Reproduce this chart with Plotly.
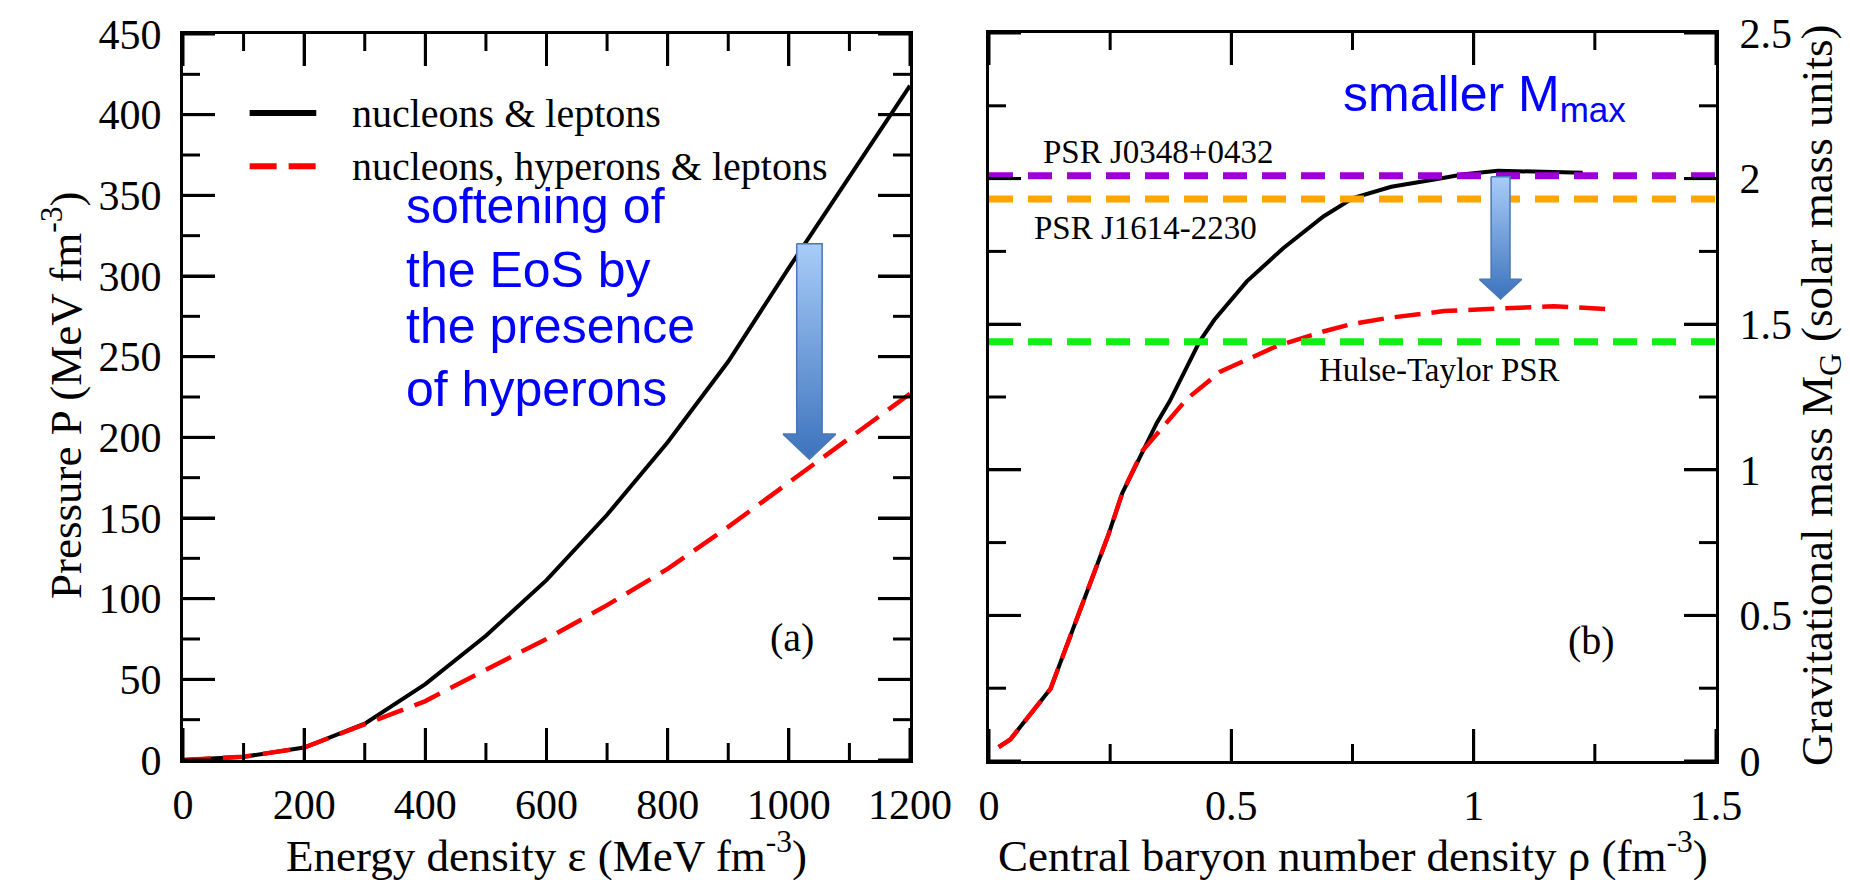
import plotly.graph_objects as go

# ---------------- data ----------------
# panel (a): EoS, pressure vs energy density
eps = [0, 100, 200, 300, 400, 500, 600, 700, 800, 900, 1000, 1100, 1200]
p_nucleons_leptons = [0, 2, 7.7, 22.5, 47, 77, 111.5, 152, 197, 247, 305, 362, 418]
p_with_hyperons = [0, 2, 7.7, 22, 36.5, 56, 75, 96, 118.5, 144.5, 172, 199, 227]

# panel (b): gravitational mass vs central baryon density
rho_nl = [0.02, 0.044, 0.127, 0.18, 0.21, 0.246, 0.275, 0.317, 0.346, 0.373, 0.435,
          0.465, 0.532, 0.607, 0.69, 0.751, 0.83, 0.916, 0.98, 1.05, 1.14, 1.225]
m_nl = [0.048, 0.074, 0.248, 0.484, 0.62, 0.775, 0.92, 1.066, 1.16, 1.236, 1.442,
        1.515, 1.647, 1.761, 1.87, 1.933, 1.972, 1.996, 2.015, 2.027, 2.025, 2.02]
rho_nhl = [0.02, 0.044, 0.127, 0.18, 0.21, 0.246, 0.275, 0.317, 0.345, 0.408, 0.477,
           0.594, 0.69, 0.745, 0.821, 0.939, 1.019, 1.09, 1.165, 1.272]
m_nhl = [0.048, 0.074, 0.248, 0.484, 0.62, 0.775, 0.92, 1.066, 1.12, 1.243, 1.337,
         1.425, 1.475, 1.499, 1.521, 1.545, 1.551, 1.558, 1.562, 1.552]

# pulsar mass references
pulsar_names = ["PSR J0348+0432", "PSR J1614-2230", "Hulse-Taylor PSR"]
pulsar_masses = [2.01, 1.93, 1.44]
pulsar_colors = ["#9c00d4", "#ffa500", "#11ee11"]
pulsar_label_x = [0.108, 0.089, 0.677]
pulsar_label_y = [2.092, 1.829, 1.342]

series_names = ["nucleons &amp; leptons", "nucleons, hyperons &amp; leptons"]
legend_rows = [401, 368]          # legend row heights in panel (a) data units
legend_swatch_x = [110, 220]      # legend swatch extent in panel (a) data units

# tick values
ticks_eps_major = [0, 200, 400, 600, 800, 1000, 1200]
ticks_eps_minor = [100, 300, 500, 700, 900, 1100]
ticks_p_major = [0, 50, 100, 150, 200, 250, 300, 350, 400, 450]
ticks_p_minor = [25, 75, 125, 175, 225, 275, 325, 375, 425]
ticks_rho_major = [0, 0.5, 1, 1.5]
ticks_rho_minor = [0.25, 0.75, 1.25]
ticks_m_major = [0, 0.5, 1, 1.5, 2, 2.5]
ticks_m_minor = [0.25, 0.75, 1.25, 1.75, 2.25]

# block arrows: (x centre, shaft half width, head half width, top, neck, tip)
arrow_a = (1034, 21, 43.5, 320, 202, 186.5)
arrow_b = (1.0555, 0.0195, 0.0435, 2.006, 1.654, 1.587)

SERIF = "Liberation Serif"
SANS = "Liberation Sans"
W, H = 1850, 880

PX_A = (727, 726)   # plot-area size of panel (a) in px
PX_B = (727, 728)   # plot-area size of panel (b) in px
DOM_XA, DOM_YA = [183 / W, 910 / W], [1 - 760 / H, 1 - 34 / H]
DOM_XB, DOM_YB = [989 / W, 1716 / W], [1 - 761 / H, 1 - 33 / H]
RANGE_XA, RANGE_YA = [0, 1200], [0, 450]
RANGE_XB, RANGE_YB = [0, 1.5], [0, 2.5]
MAJOR_LEN, MINOR_LEN = 32, 17


def to_paper(v, dom, rng):
    """map a data value of an axis to paper fraction using that axis' domain and range"""
    return dom[0] + (v - rng[0]) / (rng[1] - rng[0]) * (dom[1] - dom[0])


fig = go.Figure()

# ---- panel (a) curves
fig.add_trace(go.Scatter(x=eps, y=p_nucleons_leptons, xaxis="x", yaxis="y", mode="lines",
                         line=dict(color="black", width=4), name="nucleons & leptons"))
fig.add_trace(go.Scatter(x=eps, y=p_with_hyperons, xaxis="x", yaxis="y", mode="lines",
                         line=dict(color="#ff0000", width=4.5, dash="28px,12px"),
                         name="nucleons, hyperons & leptons"))

# legend swatches (panel a)
fig.add_trace(go.Scatter(x=legend_swatch_x, y=[legend_rows[0]] * 2, xaxis="x", yaxis="y",
                         mode="lines", line=dict(color="black", width=6)))
fig.add_trace(go.Scatter(x=legend_swatch_x, y=[legend_rows[1]] * 2, xaxis="x", yaxis="y",
                         mode="lines", line=dict(color="#ff0000", width=6, dash="27px,12px")))

# ---- panel (b) curves
fig.add_trace(go.Scatter(x=rho_nl, y=m_nl, xaxis="x2", yaxis="y2", mode="lines",
                         line=dict(color="black", width=4)))
fig.add_trace(go.Scatter(x=rho_nhl, y=m_nhl, xaxis="x2", yaxis="y2", mode="lines",
                         line=dict(color="#ff0000", width=4.5, dash="26px,11px")))

# pulsar horizontal lines
for m, c in zip(pulsar_masses, pulsar_colors):
    fig.add_trace(go.Scatter(x=RANGE_XB, y=[m, m], xaxis="x2", yaxis="y2", mode="lines",
                             line=dict(color=c, width=7, dash="24px,15px")))


def block_arrow(spec, xa, ya):
    xc, sh, hh, yt, yn, yp = spec
    xs = [xc - sh, xc + sh, xc + sh, xc + hh, xc, xc - hh, xc - sh, xc - sh]
    ys = [yt, yt, yn, yn, yp, yn, yn, yt]
    return go.Scatter(x=xs, y=ys, xaxis=xa, yaxis=ya, mode="lines", fill="toself",
                      fillgradient=dict(type="vertical",
                                        colorscale=[[0, "#3c73bd"], [1, "#a8ccf8"]]),
                      line=dict(color="#4a78b5", width=1.5))


fig.add_trace(block_arrow(arrow_a, "x", "y"))
fig.add_trace(block_arrow(arrow_b, "x2", "y2"))


# ---- inside tick marks on all four sides of a frame (drawn as line traces)
def tick_trace(vals, length_px, letter, xa, ya, xr, yr, px):
    xs, ys = [], []
    if letter == "x":
        dy = length_px * (yr[1] - yr[0]) / px[1]
        for v in vals:
            xs += [v, v, None, v, v, None]
            ys += [yr[0], yr[0] + dy, None, yr[1] - dy, yr[1], None]
    else:
        dx = length_px * (xr[1] - xr[0]) / px[0]
        for v in vals:
            xs += [xr[0], xr[0] + dx, None, xr[1] - dx, xr[1], None]
            ys += [v, v, None, v, v, None]
    return go.Scatter(x=xs, y=ys, xaxis=xa, yaxis=ya, mode="lines",
                      line=dict(color="black", width=3), connectgaps=False)


for vals, ln, letter in [(ticks_eps_major, MAJOR_LEN, "x"), (ticks_eps_minor, MINOR_LEN, "x"),
                         (ticks_p_major, MAJOR_LEN, "y"), (ticks_p_minor, MINOR_LEN, "y")]:
    fig.add_trace(tick_trace(vals, ln, letter, "x", "y", RANGE_XA, RANGE_YA, PX_A))
for vals, ln, letter in [(ticks_rho_major, MAJOR_LEN, "x"), (ticks_rho_minor, MINOR_LEN, "x"),
                         (ticks_m_major, MAJOR_LEN, "y"), (ticks_m_minor, MINOR_LEN, "y")]:
    fig.add_trace(tick_trace(vals, ln, letter, "x2", "y2", RANGE_XB, RANGE_YB, PX_B))


def axis_style():
    return dict(showline=True, linewidth=3, linecolor="black", mirror="allticks",
                ticks="inside", ticklen=MAJOR_LEN, tickwidth=3, tickcolor="black",
                showgrid=False, zeroline=False, automargin=False,
                tickfont=dict(family=SERIF, size=42, color="black"))


fig.update_layout(
    width=W, height=H, template="none", showlegend=False,
    margin=dict(l=0, r=0, t=0, b=0),
    xaxis=dict(domain=DOM_XA, anchor="y", range=RANGE_XA, tickvals=ticks_eps_major,
               ticklabelstandoff=6, **axis_style()),
    yaxis=dict(domain=DOM_YA, anchor="x", range=RANGE_YA, tickvals=ticks_p_major,
               ticklabelstandoff=10, **axis_style()),
    xaxis2=dict(domain=DOM_XB, anchor="y2", range=RANGE_XB, tickvals=ticks_rho_major,
                ticktext=["0", "0.5", "1", "1.5"], ticklabelstandoff=6, **axis_style()),
    yaxis2=dict(domain=DOM_YB, anchor="x2", side="right", range=RANGE_YB,
                tickvals=ticks_m_major, ticktext=["0", "0.5", "1", "1.5", "2", "2.5"],
                ticklabelstandoff=12, **axis_style()),
)


def note_a(x, y, text, font, **kw):
    fig.add_annotation(x=to_paper(x, DOM_XA, RANGE_XA), y=to_paper(y, DOM_YA, RANGE_YA),
                       xref="paper", yref="paper", text=text, showarrow=False, font=font, **kw)


def note_b(x, y, text, font, **kw):
    fig.add_annotation(x=to_paper(x, DOM_XB, RANGE_XB), y=to_paper(y, DOM_YB, RANGE_YB),
                       xref="paper", yref="paper", text=text, showarrow=False, font=font, **kw)


# ---- legend texts of panel (a)
for name, yy in zip(series_names, legend_rows):
    note_a(275, yy, name, dict(family=SERIF, size=40, color="black"),
           xanchor="left", yanchor="middle")

# blue commentary text (a)
blue_lines = ["softening of", "the EoS by", "the presence", "of hyperons"]
for t, yy in zip(blue_lines, [343.4, 303.7, 269, 230]):
    note_a(365, yy, t, dict(family=SANS, size=50, color="#0000ff"),
           xanchor="left", yanchor="middle")

# blue commentary text (b)
note_b(0.726, 2.28, "smaller M<sub>max</sub>", dict(family=SANS, size=50, color="#0000ff"),
       xanchor="left", yanchor="middle")

# pulsar labels
for name, lx, ly in zip(pulsar_names, pulsar_label_x, pulsar_label_y):
    note_b(lx, ly, name, dict(family=SERIF, size=33, color="black"),
           xanchor="left", yanchor="middle")

# panel tags
note_a(1005, 61, "(a)", dict(family=SERIF, size=40, color="black"))
note_b(1.295, 0.33, "(b)", dict(family=SERIF, size=40, color="black"))

# axis titles
title_font = dict(family=SERIF, size=45, color="black")
fig.add_annotation(x=546.5 / W, y=1 - 852 / H, xref="paper", yref="paper",
                   text="Energy density \u03b5 (MeV fm<sup>-3</sup>)", showarrow=False,
                   xanchor="center", yanchor="middle", font=title_font)
fig.add_annotation(x=1352.5 / W, y=1 - 852 / H, xref="paper", yref="paper",
                   text="Central baryon number density \u03c1 (fm<sup>-3</sup>)", showarrow=False,
                   xanchor="center", yanchor="middle", font=title_font)
fig.add_annotation(x=63 / W, y=1 - 396 / H, xref="paper", yref="paper", textangle=-90,
                   text="Pressure P (MeV fm<sup>-3</sup>)", showarrow=False,
                   xanchor="center", yanchor="middle", font=title_font)
fig.add_annotation(x=1820 / W, y=1 - 396 / H, xref="paper", yref="paper", textangle=-90,
                   text="Gravitational mass M<sub>G</sub> (solar mass units)", showarrow=False,
                   xanchor="center", yanchor="middle", font=title_font)

fig.write_html("out.html")
